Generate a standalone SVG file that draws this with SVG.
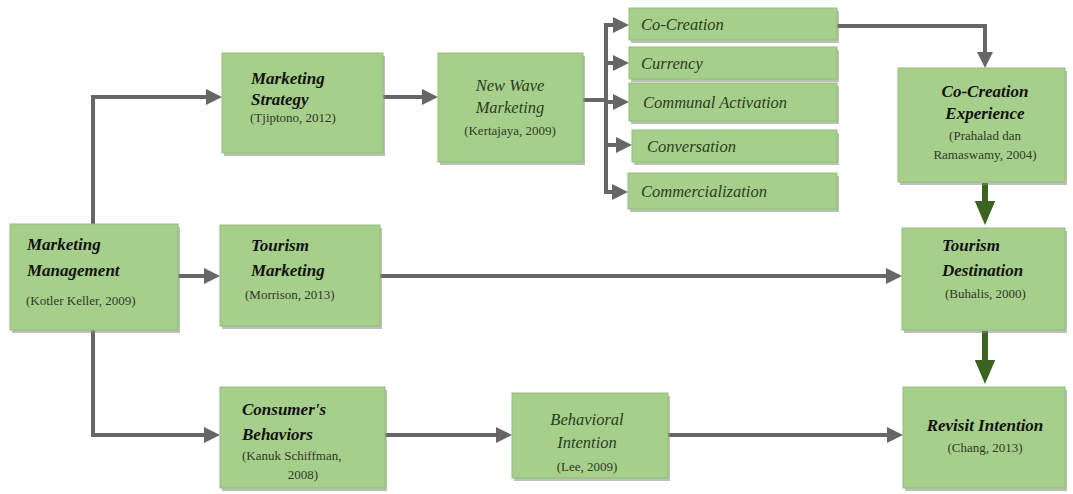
<svg xmlns="http://www.w3.org/2000/svg" width="1073" height="494" viewBox="0 0 1073 494">
<style>
.box{fill:#a6cf8b;stroke:#93bd78;stroke-width:1}
.sh{fill:#7f8f76;opacity:0.55}
.ln{stroke:#666;stroke-width:4;fill:none}
.gl{stroke:#3d6322;stroke-width:6;fill:none}
</style>
<defs>
<marker id="ah" markerWidth="4" markerHeight="4" refX="2" refY="2" orient="auto" markerUnits="strokeWidth">
<path d="M0,0 L4,2 L0,4 z" fill="#666"/>
</marker>
<marker id="gh" markerWidth="4" markerHeight="3.4" refX="2.5" refY="1.7" orient="auto" markerUnits="strokeWidth">
<path d="M0,0 L4,1.7 L0,3.4 z" fill="#3d6322"/>
</marker>
</defs>
<g id="connectors">
<path class="ln" d="M93,224 V97 H214" marker-end="url(#ah)"/>
<path class="ln" d="M93,330 V435 H212" marker-end="url(#ah)"/>
<path class="ln" d="M178,276 H212" marker-end="url(#ah)"/>
<path class="ln" d="M383,97 H430" marker-end="url(#ah)"/>
<path class="ln" d="M583,100 H606"/>
<path class="ln" d="M606,24 V192"/>
<path class="ln" d="M604,25 H621" marker-end="url(#ah)"/>
<path class="ln" d="M606,63 H621" marker-end="url(#ah)"/>
<path class="ln" d="M606,102 H621" marker-end="url(#ah)"/>
<path class="ln" d="M606,145 H624" marker-end="url(#ah)"/>
<path class="ln" d="M604,192 H620" marker-end="url(#ah)"/>
<path class="ln" d="M837,26 H985 V60" marker-end="url(#ah)"/>
<path class="ln" d="M380,276 H894" marker-end="url(#ah)"/>
<path class="ln" d="M385,435 H504" marker-end="url(#ah)"/>
<path class="ln" d="M668,435 H895" marker-end="url(#ah)"/>
<path class="gl" d="M985,183 V216" marker-end="url(#gh)"/>
<path class="gl" d="M985,331 V375" marker-end="url(#gh)"/>
</g>
<g id="marketing-management">
<rect class="sh" x="12" y="227" width="168" height="106"/>
<rect class="box" x="10" y="224" width="168" height="106"/>
<text font-family="Liberation Serif" font-style="italic" font-weight="bold" font-size="17" fill="#111" x="27" y="250">Marketing</text>
<text font-family="Liberation Serif" font-style="italic" font-weight="bold" font-size="17" fill="#111" x="27" y="276">Management</text>
<text font-family="Liberation Serif" font-size="13" fill="#2f3a28" x="26" y="305">(Kotler Keller, 2009)</text>
</g>
<g id="marketing-strategy">
<rect class="sh" x="224" y="56" width="161" height="100"/>
<rect class="box" x="222" y="53" width="161" height="100"/>
<text font-family="Liberation Serif" font-style="italic" font-weight="bold" font-size="17" fill="#111" x="251" y="84">Marketing</text>
<text font-family="Liberation Serif" font-style="italic" font-weight="bold" font-size="17" fill="#111" x="251" y="105">Strategy</text>
<text font-family="Liberation Serif" font-size="13" fill="#2f3a28" x="250" y="122">(Tjiptono, 2012)</text>
</g>
<g id="new-wave-marketing">
<rect class="sh" x="440" y="56" width="145" height="109"/>
<rect class="box" x="438" y="53" width="145" height="109"/>
<text font-family="Liberation Serif" font-style="italic" font-size="16.5" fill="#2b3d20" text-anchor="middle" x="510" y="91">New Wave</text>
<text font-family="Liberation Serif" font-style="italic" font-size="16.5" fill="#2b3d20" text-anchor="middle" x="510" y="113">Marketing</text>
<text font-family="Liberation Serif" font-size="13" fill="#2f3a28" text-anchor="middle" x="510" y="135">(Kertajaya, 2009)</text>
</g>
<g id="co-creation">
<rect class="sh" x="631" y="11" width="208" height="32"/>
<rect class="box" x="629" y="8" width="208" height="32"/>
<text font-family="Liberation Serif" font-style="italic" font-size="16.5" fill="#2b3d20" x="641" y="30">Co-Creation</text>
</g>
<g id="currency">
<rect class="sh" x="631" y="50" width="208" height="32"/>
<rect class="box" x="629" y="47" width="208" height="32"/>
<text font-family="Liberation Serif" font-style="italic" font-size="16.5" fill="#2b3d20" x="641" y="69">Currency</text>
</g>
<g id="communal-activation">
<rect class="sh" x="631" y="86" width="208" height="38"/>
<rect class="box" x="629" y="83" width="208" height="38"/>
<text font-family="Liberation Serif" font-style="italic" font-size="16.5" fill="#2b3d20" x="643" y="108">Communal Activation</text>
</g>
<g id="conversation">
<rect class="sh" x="634" y="133" width="205" height="32"/>
<rect class="box" x="632" y="130" width="205" height="32"/>
<text font-family="Liberation Serif" font-style="italic" font-size="16.5" fill="#2b3d20" x="647" y="152">Conversation</text>
</g>
<g id="commercialization">
<rect class="sh" x="630" y="176" width="209" height="36"/>
<rect class="box" x="628" y="173" width="209" height="36"/>
<text font-family="Liberation Serif" font-style="italic" font-size="16.5" fill="#2b3d20" x="641" y="197">Commercialization</text>
</g>
<g id="co-creation-experience">
<rect class="sh" x="900" y="71" width="167" height="114"/>
<rect class="box" x="898" y="68" width="167" height="114"/>
<text font-family="Liberation Serif" font-style="italic" font-weight="bold" font-size="17" fill="#111" text-anchor="middle" x="985" y="97">Co-Creation</text>
<text font-family="Liberation Serif" font-style="italic" font-weight="bold" font-size="17" fill="#111" text-anchor="middle" x="985" y="119">Experience</text>
<text font-family="Liberation Serif" font-size="13" fill="#2f3a28" text-anchor="middle" x="985" y="140">(Prahalad dan</text>
<text font-family="Liberation Serif" font-size="13" fill="#2f3a28" text-anchor="middle" x="985" y="159">Ramaswamy, 2004)</text>
</g>
<g id="tourism-marketing">
<rect class="sh" x="222" y="228" width="160" height="101"/>
<rect class="box" x="220" y="225" width="160" height="101"/>
<text font-family="Liberation Serif" font-style="italic" font-weight="bold" font-size="17" fill="#111" x="251" y="251">Tourism</text>
<text font-family="Liberation Serif" font-style="italic" font-weight="bold" font-size="17" fill="#111" x="251" y="276">Marketing</text>
<text font-family="Liberation Serif" font-size="13" fill="#2f3a28" x="245" y="299">(Morrison, 2013)</text>
</g>
<g id="tourism-destination">
<rect class="sh" x="904" y="231" width="163" height="102"/>
<rect class="box" x="902" y="228" width="163" height="102"/>
<text font-family="Liberation Serif" font-style="italic" font-weight="bold" font-size="17" fill="#111" x="942" y="251">Tourism</text>
<text font-family="Liberation Serif" font-style="italic" font-weight="bold" font-size="17" fill="#111" x="942" y="276">Destination</text>
<text font-family="Liberation Serif" font-size="13" fill="#2f3a28" x="945" y="298">(Buhalis, 2000)</text>
</g>
<g id="consumers-behaviors">
<rect class="sh" x="222" y="390" width="165" height="101"/>
<rect class="box" x="220" y="387" width="165" height="101"/>
<text font-family="Liberation Serif" font-style="italic" font-weight="bold" font-size="17" fill="#111" x="242" y="415">Consumer's</text>
<text font-family="Liberation Serif" font-style="italic" font-weight="bold" font-size="17" fill="#111" x="242" y="440">Behaviors</text>
<text font-family="Liberation Serif" font-size="13" fill="#2f3a28" x="242" y="460">(Kanuk Schiffman,</text>
<text font-family="Liberation Serif" font-size="13" fill="#2f3a28" text-anchor="middle" x="303" y="479">2008)</text>
</g>
<g id="behavioral-intention">
<rect class="sh" x="514" y="396" width="156" height="85"/>
<rect class="box" x="512" y="393" width="156" height="85"/>
<text font-family="Liberation Serif" font-style="italic" font-size="16.5" fill="#2b3d20" text-anchor="middle" x="587" y="425">Behavioral</text>
<text font-family="Liberation Serif" font-style="italic" font-size="16.5" fill="#2b3d20" text-anchor="middle" x="587" y="448">Intention</text>
<text font-family="Liberation Serif" font-size="13" fill="#2f3a28" text-anchor="middle" x="587" y="471">(Lee, 2009)</text>
</g>
<g id="revisit-intention">
<rect class="sh" x="905" y="390" width="162" height="101"/>
<rect class="box" x="903" y="387" width="162" height="101"/>
<text font-family="Liberation Serif" font-style="italic" font-weight="bold" font-size="17" fill="#111" text-anchor="middle" x="985" y="431">Revisit Intention</text>
<text font-family="Liberation Serif" font-size="13" fill="#2f3a28" text-anchor="middle" x="985" y="452">(Chang, 2013)</text>
</g>
</svg>
